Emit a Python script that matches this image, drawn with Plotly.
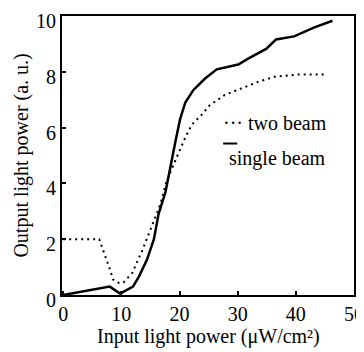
import plotly.graph_objects as go

single_x = [0, 4, 8, 9.8, 12, 13, 14.4, 15.6, 16.4, 17.6, 18.4, 19.3, 20.1, 21.0, 22.4, 24.4, 26.4, 28.4, 30.1, 31.8, 33.5, 34.9, 36.6, 38.0, 39.7, 43.2, 46.3]
single_y = [0, 0.15, 0.3, 0.05, 0.3, 0.65, 1.26, 2.0, 2.9, 3.7, 4.6, 5.5, 6.3, 6.9, 7.35, 7.76, 8.09, 8.17, 8.26, 8.47, 8.65, 8.82, 9.16, 9.2, 9.27, 9.59, 9.83]

two_x = [0, 6.2, 7.9, 8.6, 9.6, 10.4, 11.9, 13.6, 15.3, 16.7, 17.8, 19.0, 19.8, 21.0, 22.1, 23.8, 25.2, 27.8, 30.6, 33.5, 36.3, 40.3, 45.4]
two_y = [2.0, 2.0, 1.0, 0.55, 0.43, 0.45, 0.8, 1.6, 2.5, 3.25, 4.1, 4.7, 5.1, 5.65, 6.1, 6.46, 6.8, 7.17, 7.4, 7.64, 7.82, 7.9, 7.9]

x_ticks = [0, 10, 20, 30, 40, 50]
y_ticks = [0, 2, 4, 6, 8, 10]

x_title = "Input light power (μW/cm²)"
y_title = "Output light power (a. u.)"

FONT = "Liberation Serif, Times New Roman, serif"

fig = go.Figure()
fig.add_trace(go.Scatter(x=two_x, y=two_y, mode="lines",
                         line=dict(color="black", width=2, dash="2px,4px"),
                         name="two beam"))
fig.add_trace(go.Scatter(x=single_x, y=single_y, mode="lines",
                         line=dict(color="black", width=2.5),
                         name="single beam"))

# legend-like labels
fig.add_annotation(x=0.545, y=0.616, xref="paper", yref="paper", text="··· two beam",
                   showarrow=False, xanchor="left", yanchor="middle",
                   font=dict(family=FONT, size=20, color="black"))
fig.add_shape(type="line", xref="paper", yref="paper", x0=0.552, x1=0.6,
              y0=0.543, y1=0.543, line=dict(color="black", width=2))
fig.add_annotation(x=0.565, y=0.49, xref="paper", yref="paper", text="single beam",
                   showarrow=False, xanchor="left", yanchor="middle",
                   font=dict(family=FONT, size=20, color="black"))

# axis titles
fig.add_annotation(x=0.5, y=-0.148, xref="paper", yref="paper", text=x_title,
                   showarrow=False, xanchor="center", yanchor="middle",
                   font=dict(family=FONT, size=20, color="black"))
fig.add_annotation(x=-0.14, y=0.5, xref="paper", yref="paper", text=y_title,
                   showarrow=False, xanchor="center", yanchor="middle", textangle=-90,
                   font=dict(family=FONT, size=20, color="black"))

# page body has an 8px margin, so the figure is sized/offset to compensate
fig.update_layout(
    width=356, height=344,
    margin=dict(l=54, r=10, t=8, b=57),
    paper_bgcolor="white", plot_bgcolor="white",
    showlegend=False,
    font=dict(family=FONT, color="black", size=20),
)
fig.update_xaxes(range=[-0.2, 50.0], tickvals=x_ticks, ticktext=[str(v) for v in x_ticks],
                 showgrid=False, zeroline=False, showline=True, linecolor="black",
                 linewidth=2, mirror=True, ticks="inside", ticklen=4, tickwidth=1.5,
                 tickcolor="black", tickfont=dict(family=FONT, size=20), automargin=False,
                 ticklabeloverflow="allow")
fig.update_yaxes(range=[0, 10], tickvals=y_ticks, ticktext=[str(v) for v in y_ticks],
                 showgrid=False, zeroline=False, showline=True, linecolor="black",
                 linewidth=2, mirror=True, ticks="inside", ticklen=4, tickwidth=1.5,
                 tickcolor="black", tickfont=dict(family=FONT, size=20), automargin=False,
                 ticklabeloverflow="allow", ticklabelshift=5)

fig.write_html("out.html")
